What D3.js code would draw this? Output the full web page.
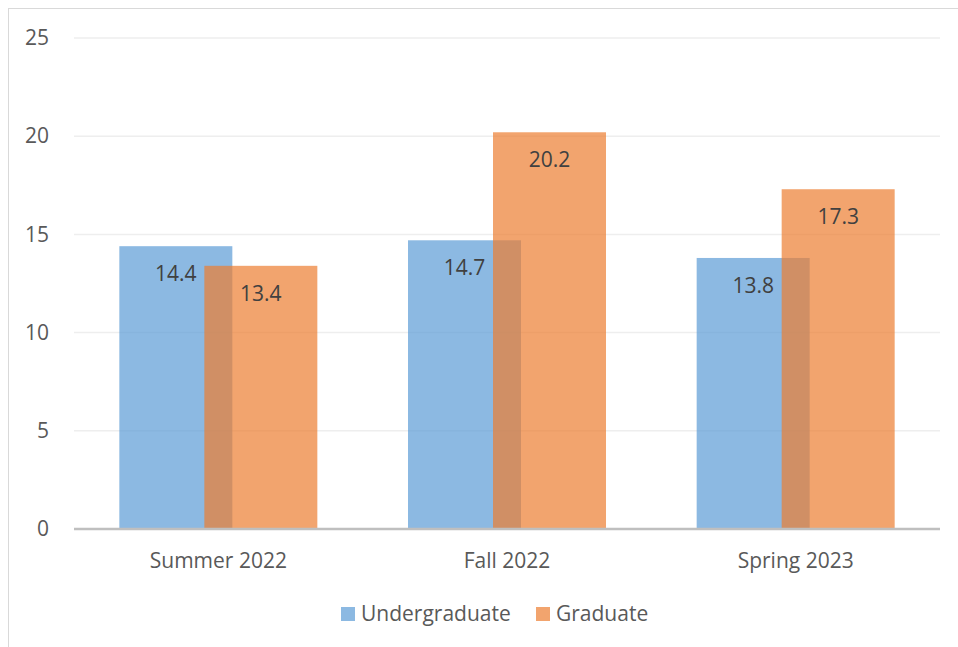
<!DOCTYPE html>
<html>
<head>
<meta charset="utf-8">
<script src="https://cdn.jsdelivr.net/npm/d3@7"></script>
<style>
  body { margin: 0; background: #fff; }
  svg { display: block; font-family: "Open Sans", "Liberation Sans", sans-serif; }
</style>
</head>
<body>
<div id="chart"></div>
<script>
// data
const terms = ["Summer 2022", "Fall 2022", "Spring 2023"];
const undergrad = [14.4, 14.7, 13.8];
const graduate = [13.4, 20.2, 17.3];
const series = ["Undergraduate", "Graduate"];
const yTicks = [0, 5, 10, 15, 20, 25];

const W = 958, H = 647;
const margin = {top: 38, right: 18, bottom: 118, left: 74};
const fontSize = 21;

const svg = d3.select("#chart").append("svg")
    .attr("width", W)
    .attr("height", H);

// chart frame
svg.append("rect")
    .attr("x", 8.5).attr("y", 8.5)
    .attr("width", W + 10).attr("height", H + 10)
    .attr("fill", "none")
    .attr("stroke", "#d9d9d9");

const x = d3.scaleBand()
    .domain(terms)
    .range([margin.left, W - margin.right]);

const y = d3.scaleLinear()
    .domain([0, 25])
    .range([H - margin.bottom, margin.top]);

const colors = d3.scaleOrdinal(series, ["#5b9bd5", "#ed7d31"]);

// gridlines
svg.append("g")
    .selectAll("line")
    .data(yTicks.filter(d => d > 0))
    .join("line")
    .attr("x1", margin.left).attr("x2", W - margin.right)
    .attr("y1", d => y(d)).attr("y2", d => y(d))
    .attr("stroke", "#eeeeee")
    .attr("stroke-width", 1.5);

// y tick labels
const yAxis = svg.append("g")
    .attr("transform", `translate(${margin.left - 25},0)`)
    .call(d3.axisLeft(y).tickValues(yTicks).tickSize(0).tickPadding(0));
yAxis.select(".domain").remove();
yAxis.selectAll("text")
    .attr("font-size", fontSize)
    .attr("font-family", "Open Sans, sans-serif")
    .attr("fill", "#595959");

// bars: two per term, overlapping
const barW = 113, overlap = 28;
const groupW = 2 * barW - overlap;

const rows = [];
terms.forEach((t, i) => {
    rows.push({term: t, key: "Undergraduate", value: undergrad[i], idx: 0});
    rows.push({term: t, key: "Graduate", value: graduate[i], idx: 1});
});
const barX = d => x(d.term) + x.bandwidth() / 2 - groupW / 2 + d.idx * (barW - overlap);

svg.append("g")
    .selectAll("rect")
    .data(rows)
    .join("rect")
    .attr("x", barX)
    .attr("y", d => y(d.value))
    .attr("width", barW)
    .attr("height", d => y(0) - y(d.value))
    .attr("fill", d => colors(d.key))
    .attr("fill-opacity", 0.7);

// value labels (inside end)
svg.append("g")
    .selectAll("text")
    .data(rows)
    .join("text")
    .attr("x", d => barX(d) + barW / 2)
    .attr("y", d => y(d.value) + 35)
    .attr("text-anchor", "middle")
    .attr("font-size", fontSize)
    .attr("fill", "#404040")
    .text(d => d.value.toFixed(1));

// baseline
svg.append("line")
    .attr("x1", margin.left).attr("x2", W - margin.right)
    .attr("y1", y(0)).attr("y2", y(0))
    .attr("stroke", "#bfbfbf")
    .attr("stroke-width", 2.5);

// x labels
const xAxis = svg.append("g")
    .attr("transform", `translate(0,${y(0)})`)
    .call(d3.axisBottom(x).tickSize(0).tickPadding(24));
xAxis.select(".domain").remove();
xAxis.selectAll("text")
    .attr("font-size", fontSize)
    .attr("font-family", "Open Sans, sans-serif")
    .attr("fill", "#595959");

// legend
const legendX = [341, 536];
const legend = svg.append("g")
    .selectAll("g")
    .data(series)
    .join("g")
    .attr("transform", (d, i) => `translate(${legendX[i]},607)`);
legend.append("rect")
    .attr("width", 14).attr("height", 14)
    .attr("fill", d => colors(d))
    .attr("fill-opacity", 0.7);
legend.append("text")
    .attr("x", 20).attr("y", 14)
    .attr("font-size", fontSize)
    .attr("fill", "#595959")
    .text(d => d);
</script>
</body>
</html>
